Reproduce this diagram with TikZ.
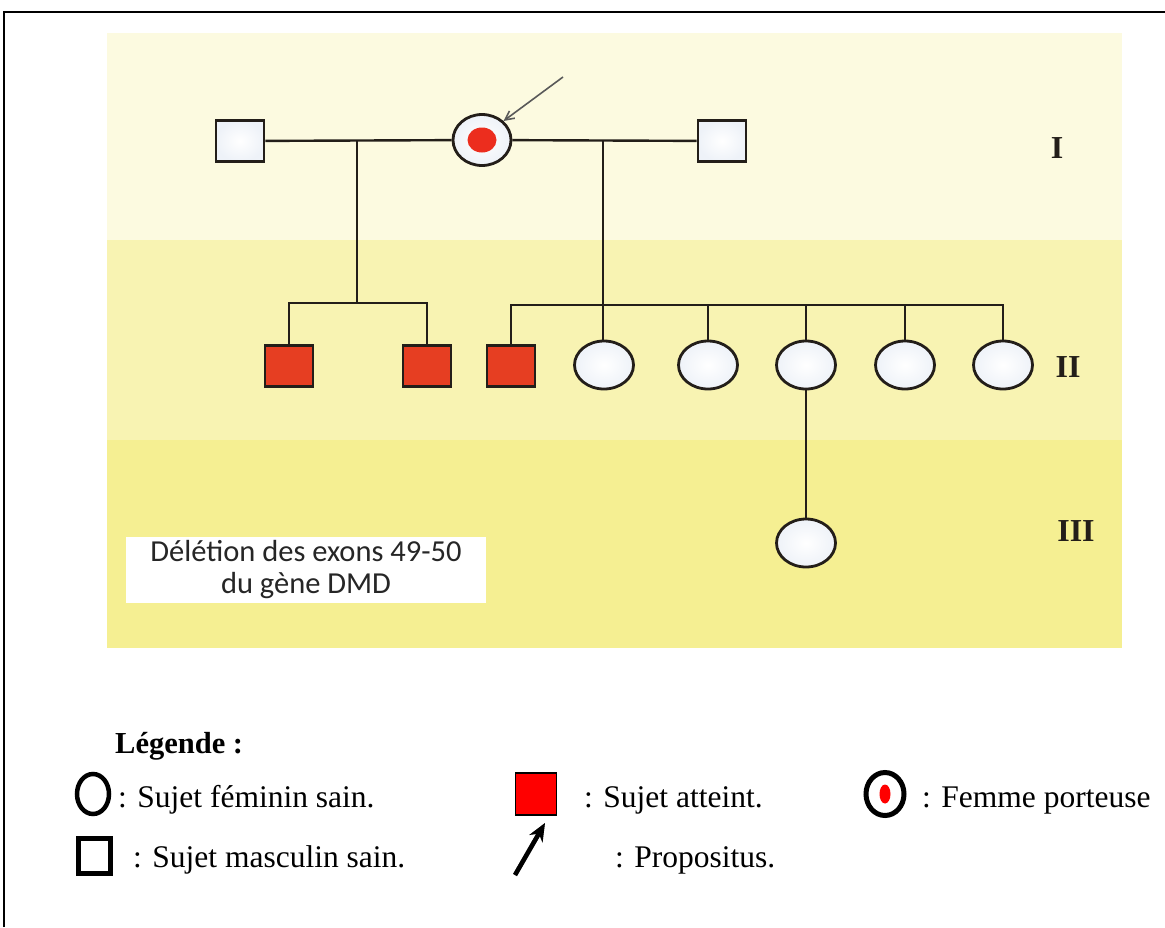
\documentclass[tikz,border=0pt]{standalone}
\usepackage{fontspec}
\setmainfont{Liberation Serif}
\newfontfamily\boxfont{Carlito}
\usetikzlibrary{shapes.geometric,arrows.meta,positioning}
\definecolor{bandA}{RGB}{252,250,224}
\definecolor{bandB}{RGB}{248,243,178}
\definecolor{bandC}{RGB}{245,239,146}
\definecolor{affred}{RGB}{230,62,34}
\definecolor{dotred}{RGB}{236,45,30}
\definecolor{lineink}{RGB}{35,30,25}
\definecolor{paleblue}{RGB}{238,242,248}

\begin{document}
\begin{tikzpicture}[x=1pt, y=-1pt,
    male/.style={draw=lineink, line width=2.8pt, inner color=white, outer color=paleblue, rectangle, minimum width=48pt, minimum height=41pt, inner sep=0pt},
    affected/.style={draw=lineink, line width=2.8pt, fill=affred, rectangle, minimum width=48pt, minimum height=41pt, inner sep=0pt},
    female/.style={draw=lineink, line width=2.8pt, inner color=white, outer color=paleblue, ellipse, minimum width=59pt, minimum height=48pt, inner sep=0pt},
    link/.style={draw=lineink, line width=2.4pt},
    gen/.style={font=\fontsize{32}{34}\selectfont\bfseries, text=lineink},
    legtext/.style={anchor=base west, font=\fontsize{31.5}{36}\selectfont, inner sep=0pt}]
    \useasboundingbox (0,0) rectangle (1165,927);

    % frame and bands
    \draw[line width=2pt] (4,927) -- (4,12) -- (1165,12);
    \fill[bandA] (107,33) rectangle (1122,240);
    \fill[bandB] (107,240) rectangle (1122,440);
    \fill[bandC] (107,440) rectangle (1122,648);

    % generation I
    \node [male] (p1) at (240,141) {};
    \node [female, minimum width=58pt, minimum height=51pt] (p2) at (482,140) {};
    \node [fill=dotred, ellipse, minimum width=29pt, minimum height=25pt, inner sep=0pt] (dot) at (p2) {};
    \node [male] (p3) at (722,141) {};
    \coordinate (m1) at (357,141);
    \coordinate (m2) at (603,141);
    \coordinate (tail) at (563,77);
    \draw [-{Straight Barb[length=9pt,width=9pt]}, draw=black!65, line width=1.6pt] (tail) -- (p2.north east);

    % generation II
    \node [affected] (c1) at (289,366) {};
    \node [affected] (c2) at (427,366) {};
    \node [affected] (c3) at (511,366) {};
    \node [female] (c4) at (604,365) {};
    \node [female] (c5) at (708,365) {};
    \node [female] (c6) at (806,365) {};
    \node [female] (c7) at (905,365) {};
    \node [female] (c8) at (1003,365) {};
    \coordinate (j1) at (357,303);
    \coordinate (j2) at (603,305);

    % generation III
    \node [female] (g1) at (806,543) {};

    \path [link]
        (p1) edge (p2)
        (p2) edge (p3)
        (m1) edge (j1)
        (m2) edge (m2 |- c4.north)
        (c6) edge (g1);
    \draw [link] (c1.north) |- (j1) -| (c2.north);
    \draw [link] (c3.north) |- (j2) -| (c8.north);
    \foreach \c in {c5,c6,c7}
        \draw [link] (\c.north) -- (\c.north |- j2);

    \node [gen] (lI) at (1057,148) {I};
    \node [gen] (lII) at (1068,367) {II};
    \node [gen] (lIII) at (1076,531) {III};

    \node [fill=white, minimum width=360pt, minimum height=66pt, inner sep=0pt, align=center, text=black!85,
        font=\boxfont\fontsize{30.5}{32}\selectfont] (note) at (306,570) {D\'el\'etion des exons 49-50\\du g\`ene DMD};

    % legend
    \node [legtext, font=\fontsize{30.5}{36}\selectfont\bfseries] (leg) at (115,753) {L\'egende :};
    \node [draw, line width=4.5pt, ellipse, minimum width=32pt, minimum height=40pt, inner sep=0pt] (kf) at (93,794) {};
    \node [legtext] (kft) at (118,807) {: Sujet f\'eminin sain.};
    \node [draw, line width=5pt, rectangle, minimum width=32pt, minimum height=35pt, inner sep=0pt] (km) at (94.5,856) {};
    \node [legtext] (kmt) at (133,867) {: Sujet masculin sain.};
    \node [draw, line width=1.2pt, fill=red, rectangle, minimum width=41pt, minimum height=42pt, inner sep=0pt] (ka) at (536,794) {};
    \node [legtext] (kat) at (584,807) {: Sujet atteint.};
    \coordinate (ktail) at (515,875);
    \coordinate (khead) at (545,823);
    \draw [-{Stealth[length=18pt,width=15pt]}, line width=4.5pt, black!45, shift={(1.5,1.5)}] (ktail) -- (khead);
    \draw [-{Stealth[length=18pt,width=15pt]}, line width=4.5pt] (ktail) -- (khead);
    \node [legtext] (kpt) at (615,867) {: Propositus.};
    \node [draw, line width=5pt, ellipse, minimum width=38pt, minimum height=43pt, inner sep=0pt] (kc) at (885,794) {};
    \node [fill=red, ellipse, minimum width=11pt, minimum height=19pt, inner sep=0pt] (kcd) at (kc) {};
    \node [legtext] (kct) at (922,807) {: Femme porteuse};
\end{tikzpicture}
\end{document}
